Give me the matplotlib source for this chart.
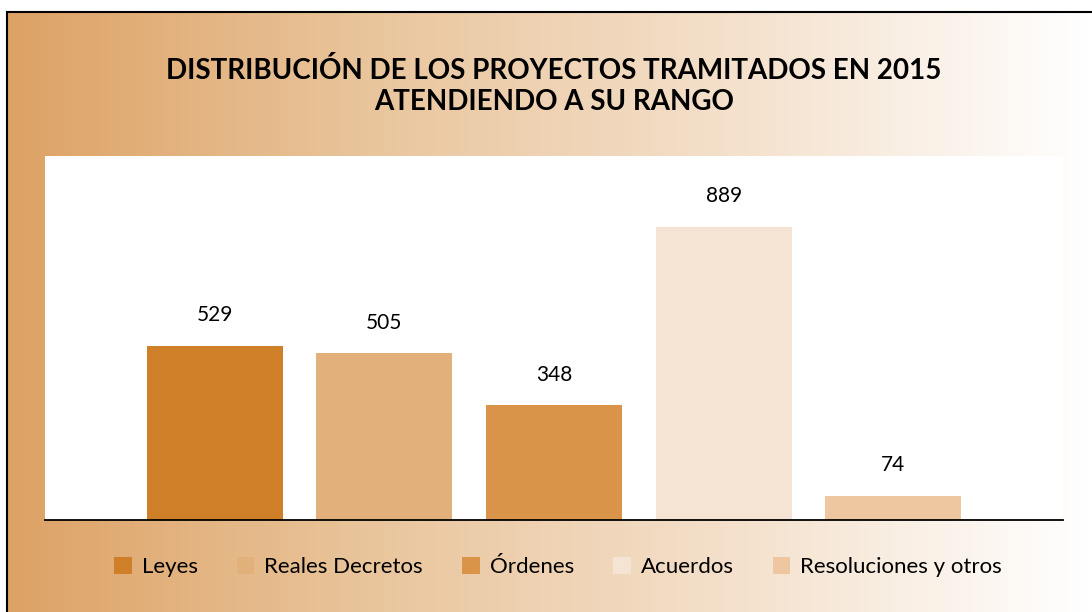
import matplotlib.pyplot as plt
import numpy as np
from matplotlib.patches import Patch
from matplotlib.colors import LinearSegmentedColormap

plt.rcParams['font.family'] = ['Lato', 'DejaVu Sans']

categorias = ['Leyes', 'Reales Decretos', 'Órdenes', 'Acuerdos', 'Resoluciones y otros']
valores = [529, 505, 348, 889, 74]
colores = ['#CF7F27', '#E2B07A', '#D9944A', '#F5E3D3', '#EEC7A0']
titulo = 'DISTRIBUCIÓN DE LOS PROYECTOS TRAMITADOS EN 2015\nATENDIENDO A SU RANGO'

W, H = 1092, 612
fig = plt.figure(figsize=(W / 100, H / 100), dpi=100)

# fondo degradado con marco
bg = fig.add_axes([7 / W, 0, 1 - 7 / W, 1 - 12 / H])
grad = LinearSegmentedColormap.from_list('g', ['#DDA265', '#E9C59C', '#F4E0CB', '#FFFFFF'])
bg.imshow(np.linspace(0, 1, 256).reshape(1, -1), aspect='auto', cmap=grad, extent=[0, 1, 0, 1])
bg.set_xlim(0, 1)
bg.set_ylim(0, 1)
bg.set_xticks([])
bg.set_yticks([])
for s in ['right', 'bottom']:
    bg.spines[s].set_visible(False)
bg.spines['left'].set_linewidth(1.5)
bg.spines['top'].set_linewidth(1.5)

fig.text(554 / W, 1 - 86 / H, titulo, ha='center', va='center', fontsize=20,
         fontweight='bold', linespacing=1.2)

ax = fig.add_axes([45 / W, 1 - 520 / H, (1063 - 45) / W, (520 - 156) / H])
ax.set_facecolor('white')
x = np.arange(1, len(categorias) + 1)
bars = ax.bar(x, valores, width=0.8, color=colores)
for xi, v in zip(x, valores):
    ax.text(xi, v + 62, str(v), ha='center', va='bottom', fontsize=15)
ax.set_xlim(0, 6)
ax.set_ylim(0, 1104)
ax.set_xticks([])
ax.set_yticks([])
for s in ['top', 'right', 'left']:
    ax.spines[s].set_visible(False)
ax.spines['bottom'].set_linewidth(1.3)

handles = [Patch(facecolor=c, edgecolor='none') for c in colores]
fig.legend(handles, categorias, loc='center', bbox_to_anchor=(558 / W, 1 - 567 / H),
           ncol=5, frameon=False, fontsize=16, handlelength=0.8, handleheight=0.8,
           handletextpad=0.45, columnspacing=1.75)

fig.savefig('out.png', dpi=100)
